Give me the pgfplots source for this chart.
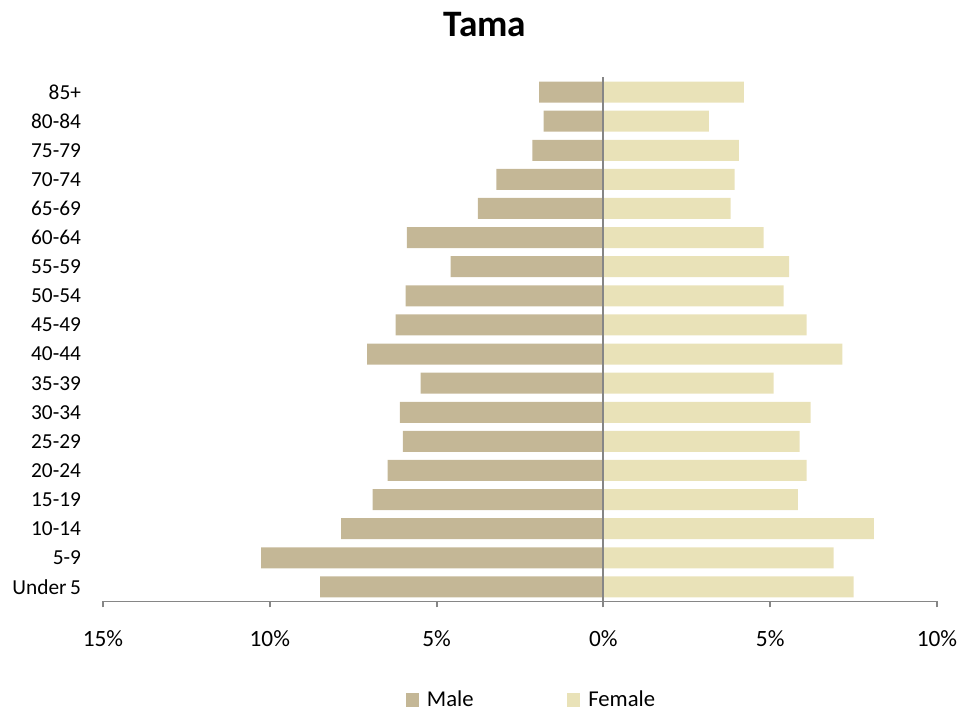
\documentclass[border=0pt]{standalone}
\usepackage{fontspec}
\setmainfont{Carlito}
\usepackage{pgfplots}
\pgfplotsset{compat=1.18}
\definecolor{male}{RGB}{196,183,150}
\definecolor{female}{RGB}{233,226,184}
\definecolor{axgray}{RGB}{134,134,134}
\begin{document}
\begin{tikzpicture}
\path[use as bounding box] (-77.25pt,-83.625pt) rectangle (657pt,451.125pt);
\begin{axis}[
  at={(0,0)}, anchor=south west,
  scale only axis, width=625.5pt, height=393pt,
  xbar, bar width=15.75pt, bar shift=0pt,
  xmin=-15, xmax=10, ymin=-0.5, ymax=17.5,
  axis x line*=bottom, axis y line*=left,
  x axis line style={axgray, line width=1.4pt},
  y axis line style={draw=none},
  xtick={-15,-10,-5,0,5,10},
  xticklabels={15\%,10\%,5\%,0\%,5\%,10\%},
  xtick style={axgray, line width=1.4pt},
  major tick length=4.5pt, tick align=outside,
  ytick={0,...,17},
  yticklabels={Under\,5,5-9,10-14,15-19,20-24,25-29,30-34,35-39,40-44,45-49,50-54,55-59,60-64,65-69,70-74,75-79,80-84,85+},
  ytick style={draw=none},
  xticklabel style={font=\fontsize{17.5}{20}\selectfont, yshift=-14pt},
  yticklabel style={font=\fontsize{16}{19}\selectfont, xshift=-8.5pt},
  clip=false,
  legend columns=2,
  legend style={draw=none, at={(0.514,-0.188)}, anchor=center,
    font=\fontsize{17}{20}\selectfont,
    /tikz/column 1/.style={column sep=4pt},
    /tikz/column 2/.style={column sep=68pt},
    /tikz/column 3/.style={column sep=4pt}},
  legend image code/.code={\fill[#1] (0pt,-5pt) rectangle (10pt,5pt);},
]
\addplot[fill=male, draw=none] coordinates {
 (-8.49,0) (-10.26,1) (-7.86,2) (-6.92,3) (-6.47,4) (-6.01,5) (-6.10,6) (-5.48,7) (-7.08,8)
 (-6.23,9) (-5.93,10) (-4.58,11) (-5.89,12) (-3.76,13) (-3.21,14) (-2.13,15) (-1.79,16) (-1.93,17)};
\addplot[fill=female, draw=none] coordinates {
 (7.50,0) (6.90,1) (8.11,2) (5.83,3) (6.09,4) (5.88,5) (6.21,6) (5.10,7) (7.16,8)
 (6.09,9) (5.40,10) (5.57,11) (4.80,12) (3.81,13) (3.93,14) (4.06,15) (3.16,16) (4.21,17)};
\legend{Male,Female}
\draw[axgray, line width=1.4pt] (axis cs:0,-0.5) -- (axis cs:0,17.5);
\node[anchor=base, font=\fontsize{28}{32}\selectfont\bfseries] at (rel axis cs:0.458,1.078) {Tama};
\end{axis}
\end{tikzpicture}
\end{document}
